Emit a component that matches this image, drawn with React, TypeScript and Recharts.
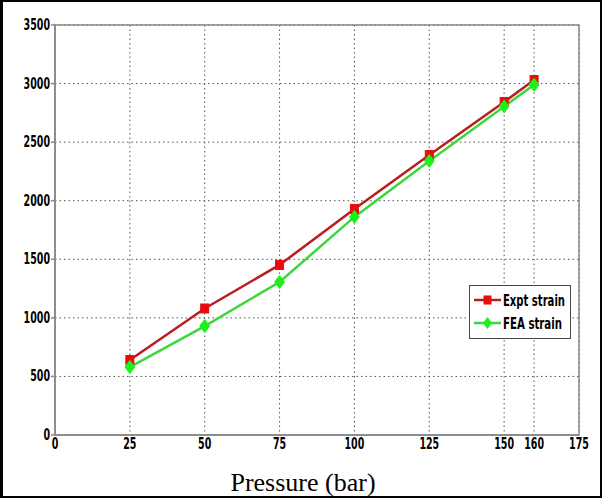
import React from 'react';
import { LineChart, Line, XAxis, YAxis, CartesianGrid, ReferenceArea } from 'recharts';

const pressure = [25, 50, 75, 100, 125, 150, 160];
const exptStrain = [640, 1080, 1452, 1930, 2390, 2843, 3030];
const feaStrain = [580, 930, 1306, 1862, 2340, 2805, 2990];
const xTicks = [0, 25, 50, 75, 100, 125, 150, 160, 175];
const yTicks = [0, 500, 1000, 1500, 2000, 2500, 3000, 3500];
const seriesNames = ['Expt strain', 'FEA strain'];

const data = pressure.map((p, i) => ({ p, expt: exptStrain[i], fea: feaStrain[i] }));

const FONT = "'DejaVu Sans Condensed', 'DejaVu Sans', sans-serif";
const DIGIT_W = 6.6;

const RED_LINE = '#b81e1e';
const RED_MARK = '#e80c0c';
const GREEN_LINE = '#3ad83a';
const GREEN_MARK = '#1ef01e';

const XTick = (props: any) => {
  const { x, y, payload } = props;
  const s = String(payload.value);
  return (
    <text
      x={x}
      y={y + 11.5}
      textAnchor="middle"
      fontFamily={FONT}
      fontWeight={700}
      fontSize={16}
      fill="#000"
      textLength={s.length * DIGIT_W}
      lengthAdjust="spacingAndGlyphs"
    >
      {s}
    </text>
  );
};

const YTick = (props: any) => {
  const { x, y, payload } = props;
  const s = String(payload.value);
  return (
    <text
      x={x}
      y={y + 5}
      textAnchor="end"
      fontFamily={FONT}
      fontWeight={700}
      fontSize={16}
      fill="#000"
      textLength={s.length * DIGIT_W}
      lengthAdjust="spacingAndGlyphs"
    >
      {s}
    </text>
  );
};

const SquareDot = (props: any) => {
  const { cx, cy } = props;
  if (cx == null || cy == null) return null;
  return <rect x={cx - 4} y={cy - 4.5} width={8} height={9} fill={RED_MARK} stroke={RED_MARK} />;
};

const DiamondDot = (props: any) => {
  const { cx, cy } = props;
  if (cx == null || cy == null) return null;
  return (
    <path
      d={`M${cx},${cy - 6} L${cx + 4.5},${cy} L${cx},${cy + 6} L${cx - 4.5},${cy} Z`}
      fill={GREEN_MARK}
      stroke={GREEN_MARK}
      strokeLinejoin="round"
      strokeWidth={1.5}
    />
  );
};

const LegendBox = () => (
  <svg width={125} height={54} style={{ display: 'block', overflow: 'visible' }}>
    <rect x={0.5} y={0.5} width={101} height={53} fill="#fff" stroke="#444" strokeWidth={1} />
    <line x1={5} x2={32} y1={15} y2={15} stroke={RED_LINE} strokeWidth={2.5} />
    <rect x={14.5} y={10.5} width={8} height={9} fill={RED_MARK} />
    <text x={34} y={21} fontFamily={FONT} fontWeight={700} fontSize={16} fill="#000" textLength={62} lengthAdjust="spacingAndGlyphs">
      {seriesNames[0]}
    </text>
    <line x1={5} x2={32} y1={38} y2={38} stroke={GREEN_LINE} strokeWidth={2.5} />
    <path d="M18.5,32 L23,38 L18.5,44 L14,38 Z" fill={GREEN_MARK} />
    <text x={34} y={44} fontFamily={FONT} fontWeight={700} fontSize={16} fill="#000" textLength={59} lengthAdjust="spacingAndGlyphs">
      {seriesNames[1]}
    </text>
  </svg>
);

export default function App() {
  return (
    <div style={{ position: 'absolute', left: 0, top: 0, width: 602, height: 498, background: '#fff' }}>
      <LineChart
        width={602}
        height={498}
        data={data}
        margin={{ top: 25, right: 23, left: 0, bottom: 0 }}
      >
        <CartesianGrid stroke="#555" strokeDasharray="1.5 3" />
        <XAxis
          dataKey="p"
          type="number"
          domain={[0, 175]}
          ticks={xTicks}
          interval={0}
          height={63}
          stroke="#888"
          strokeWidth={1.5}
          tickLine={false}
          tickSize={0}
          tick={<XTick />}
          label={{
            value: 'Pressure (bar)',
            position: 'insideBottom',
            offset: 7,
            dx: -14,
            style: { fontFamily: "'Liberation Serif', 'Times New Roman', serif", fontSize: 26, fill: '#000' },
          }}
        />
        <YAxis
          type="number"
          domain={[0, 3500]}
          ticks={yTicks}
          interval={0}
          width={55}
          stroke="#888"
          strokeWidth={1.5}
          tickSize={4}
          tickMargin={1}
          tick={<YTick />}
        />
        <ReferenceArea x1={0} x2={175} y1={0} y2={3500} fill="none" stroke="#888" strokeWidth={1.5} ifOverflow="visible" />
        <Line
          type="linear"
          dataKey="expt"
          name={seriesNames[0]}
          stroke={RED_LINE}
          strokeWidth={2.5}
          dot={<SquareDot />}
          activeDot={false}
          isAnimationActive={false}
        />
        <Line
          type="linear"
          dataKey="fea"
          name={seriesNames[1]}
          stroke={GREEN_LINE}
          strokeWidth={2.5}
          dot={<DiamondDot />}
          activeDot={false}
          isAnimationActive={false}
        />
      </LineChart>
      <div style={{ position: 'absolute', left: 469, top: 285 }}>
        <LegendBox />
      </div>
      <div
        style={{
          position: 'absolute',
          left: 0,
          top: 0,
          width: 602,
          height: 498,
          boxSizing: 'border-box',
          borderTop: '2px solid #000',
          borderLeft: '3px solid #000',
          borderRight: '2px solid #000',
          borderBottom: '2px solid #000',
          pointerEvents: 'none',
        }}
      />
    </div>
  );
}
